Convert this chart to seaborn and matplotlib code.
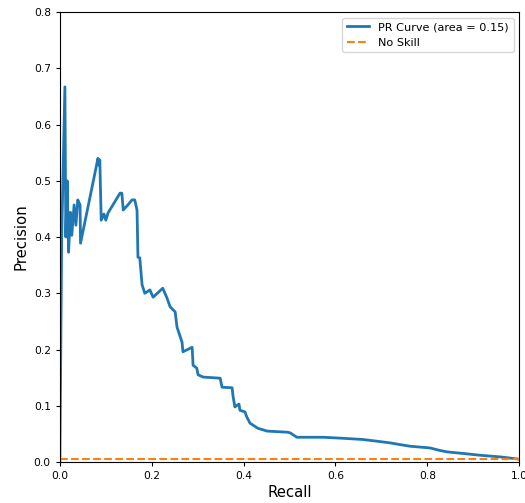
import matplotlib
matplotlib.use("Agg")
import matplotlib.pyplot as plt
import seaborn as sns
import pandas as pd

recall = [0.0, 0.004, 0.011, 0.013, 0.016, 0.019, 0.023, 0.026, 0.031, 0.035, 0.039,
          0.044, 0.045, 0.083, 0.085, 0.087, 0.090, 0.096, 0.100, 0.105, 0.131, 0.135,
          0.138, 0.148, 0.157, 0.163, 0.168, 0.170, 0.174, 0.179, 0.185, 0.196, 0.203,
          0.224, 0.233, 0.240, 0.251, 0.255, 0.266, 0.268, 0.288, 0.290, 0.298, 0.301,
          0.312, 0.349, 0.353, 0.375, 0.377, 0.381, 0.390, 0.392, 0.403, 0.407, 0.414,
          0.431, 0.451, 0.495, 0.501, 0.516, 0.573, 0.620, 0.660, 0.690, 0.719, 0.740,
          0.763, 0.806, 0.825, 0.843, 0.880, 0.915, 0.960, 1.0]
precision = [0.0, 0.40, 0.667, 0.40, 0.50, 0.373, 0.444, 0.403, 0.457, 0.421, 0.466,
             0.457, 0.389, 0.540, 0.528, 0.537, 0.430, 0.441, 0.430, 0.443, 0.478, 0.478,
             0.448, 0.457, 0.466, 0.466, 0.448, 0.364, 0.363, 0.315, 0.300, 0.306, 0.293,
             0.309, 0.292, 0.276, 0.267, 0.240, 0.213, 0.196, 0.204, 0.172, 0.167, 0.155,
             0.151, 0.149, 0.133, 0.132, 0.117, 0.098, 0.103, 0.092, 0.089, 0.080, 0.069,
             0.060, 0.055, 0.053, 0.052, 0.044, 0.044, 0.042, 0.040, 0.037, 0.034, 0.031,
             0.028, 0.025, 0.021, 0.018, 0.015, 0.012, 0.009, 0.005]
no_skill_x = [0.0, 1.0]
no_skill_y = [0.005, 0.005]
pr_label = "PR Curve (area = 0.15)"
ns_label = "No Skill"

fig = plt.figure(figsize=(5.25, 5.03), dpi=100)
ax = fig.add_axes([0.114, 0.0815, 0.875, 0.8945])

df = pd.DataFrame({"Recall": recall, "Precision": precision})
sns.lineplot(data=df, x="Recall", y="Precision", sort=False, estimator=None,
             color="#1f77b4", linewidth=2, label=pr_label, ax=ax)
ns = pd.DataFrame({"x": no_skill_x, "y": no_skill_y})
sns.lineplot(data=ns, x="x", y="y", sort=False, estimator=None,
             color="#ff7f0e", linestyle="--", linewidth=1.5, label=ns_label, ax=ax)

ax.set_xlim(0, 1)
ax.set_ylim(0, 0.8)
ax.set_xlabel("Recall", fontsize=10.7, labelpad=3)
ax.set_ylabel("Precision", fontsize=10.7, labelpad=4)
ax.tick_params(labelsize=7.7, length=3)
ax.legend(loc="upper right", fontsize=8.1)

fig.savefig("out.png", dpi=100)
